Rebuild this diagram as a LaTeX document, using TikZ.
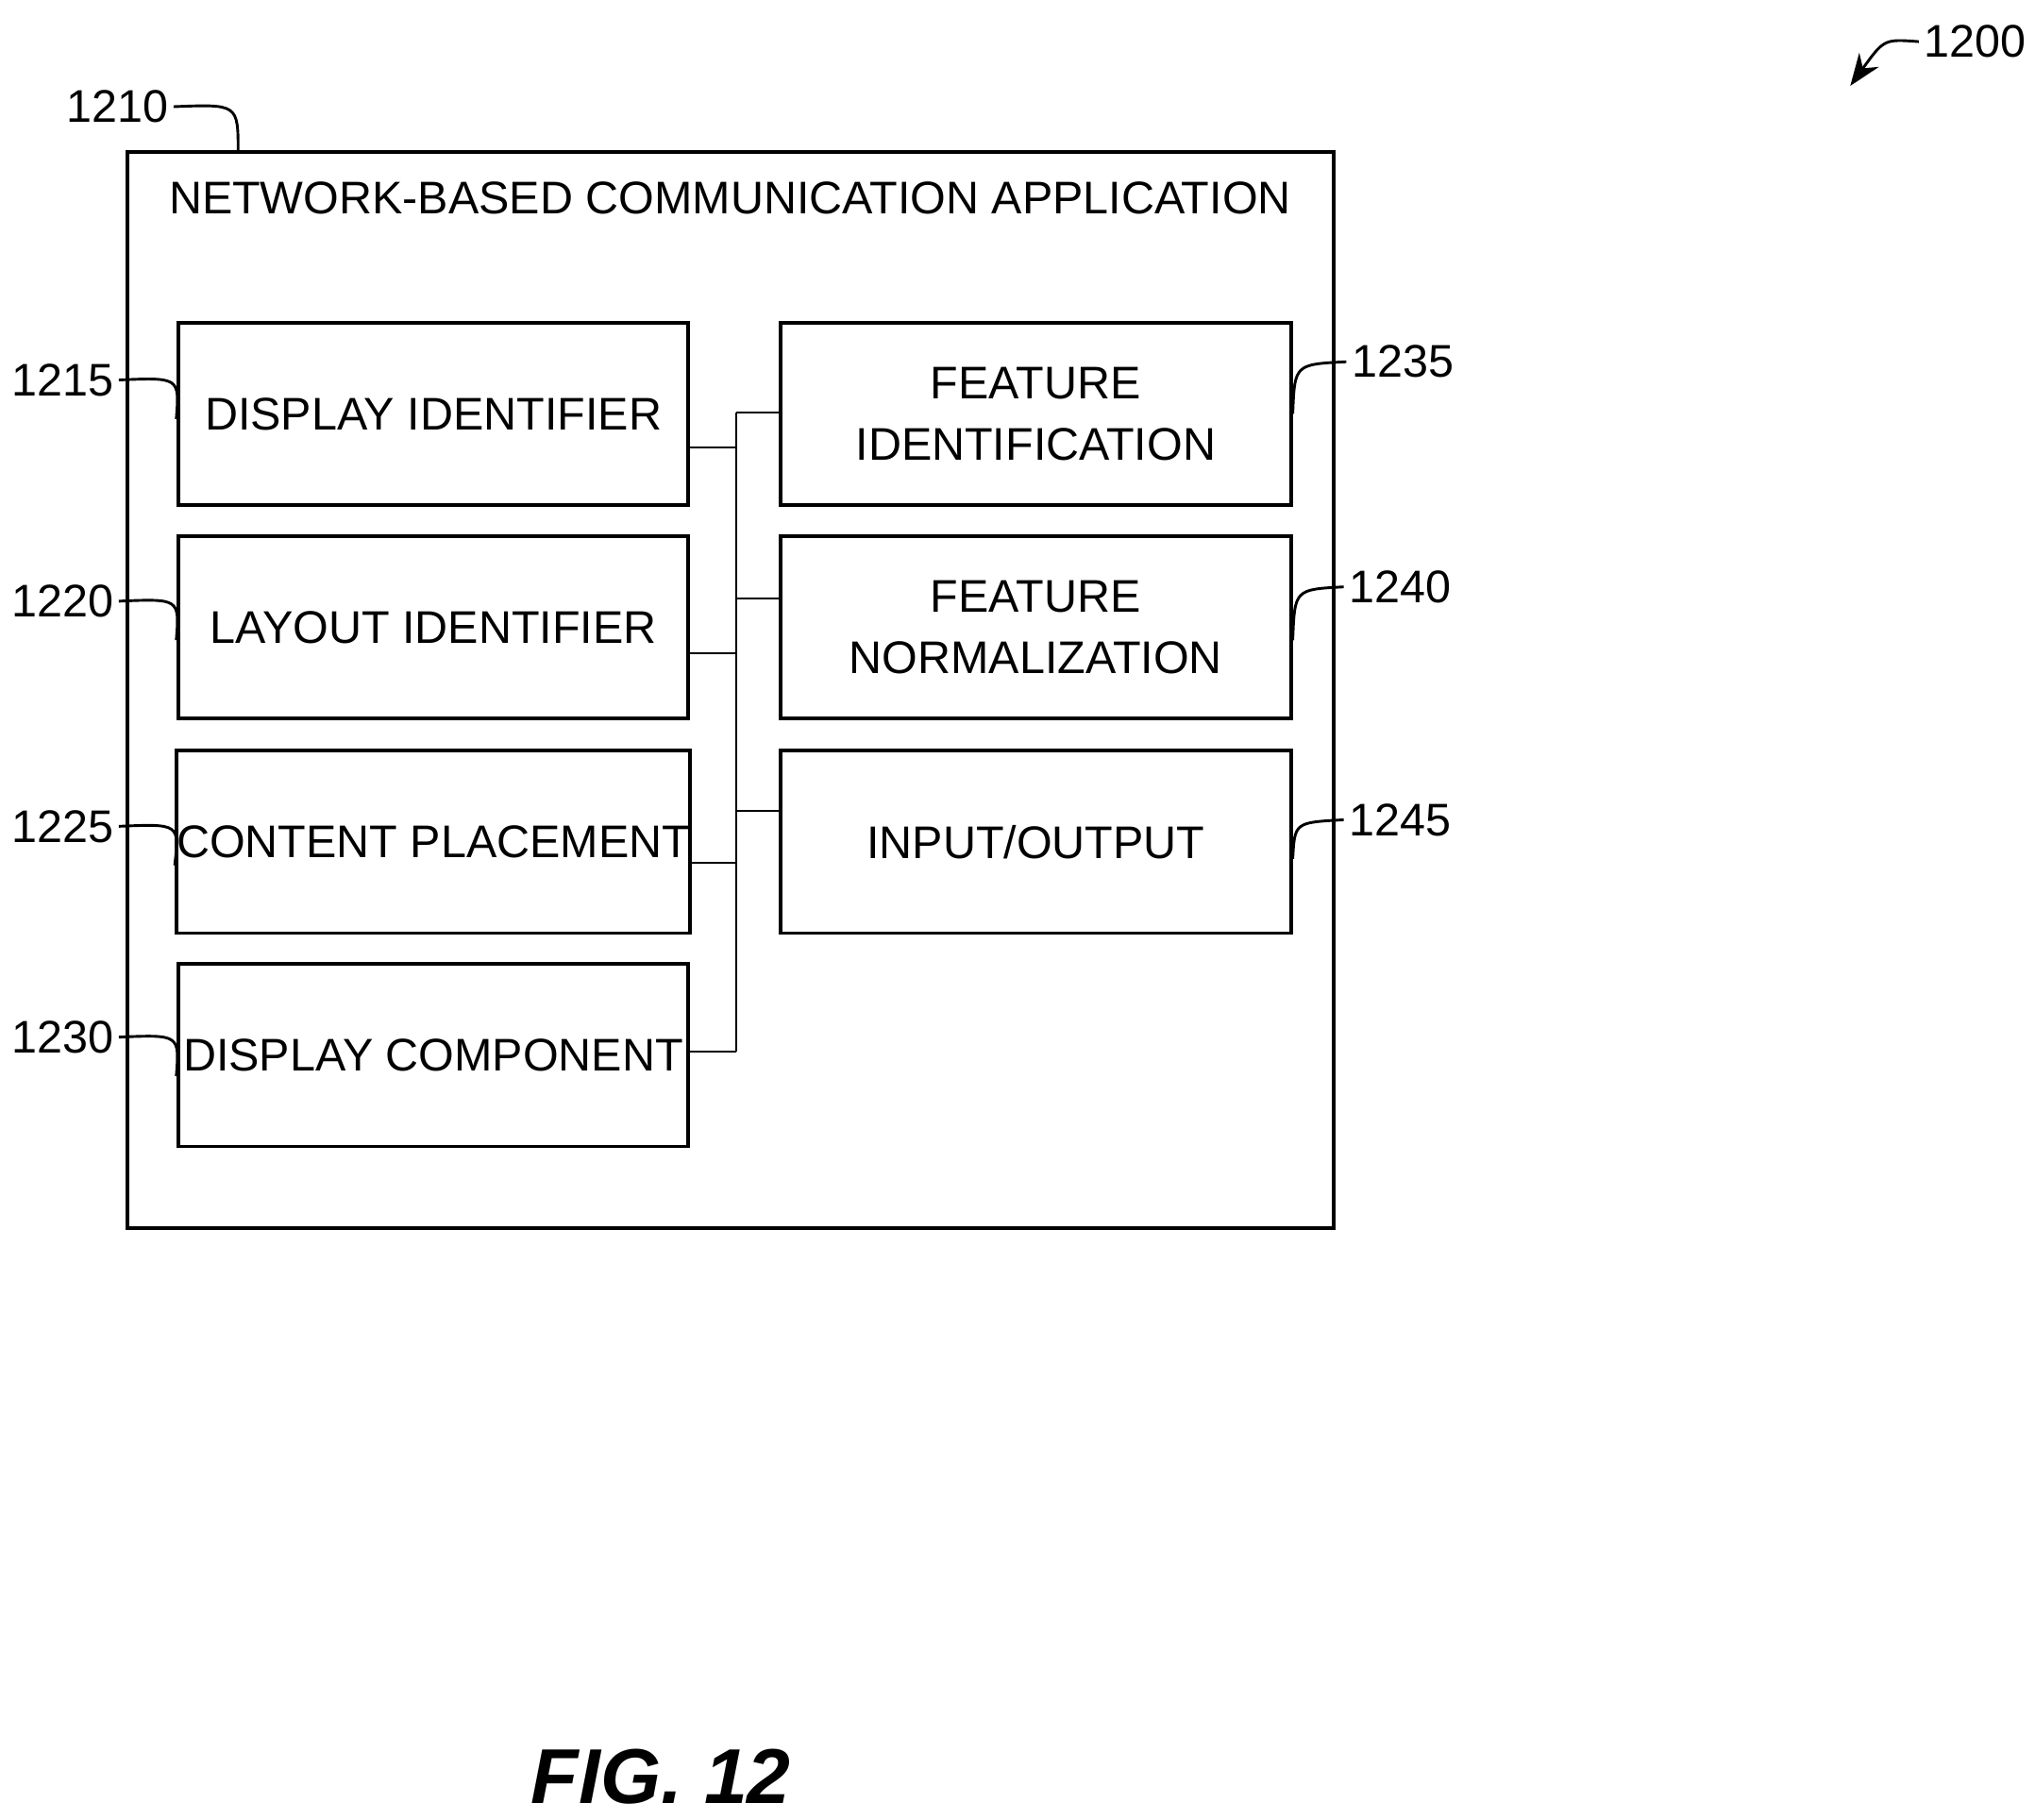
\documentclass[tikz,border=0pt]{standalone}
\usepackage{fontspec}
\setmainfont{Liberation Sans}
\usetikzlibrary{arrows.meta}

\tikzset{
  block/.style = {draw, thick, minimum width = 3.92cm, minimum height = 1.40cm, align = center, inner sep = 0pt, font = \fontsize{10}{13.5}\selectfont},
  refnum/.style = {font = \fontsize{10}{12}\selectfont, inner sep = 1pt},
  leader/.style = {semithick}
}

\begin{document}
\begin{tikzpicture}[x = 0.01cm, y = -0.01cm]
        \useasboundingbox (0,0) rectangle (1564,1398);

        \draw[thick] (98,117) rectangle (1025,944);
        \node[font = \fontsize{10}{13}\selectfont] (title) at (561,152) {NETWORK-BASED COMMUNICATION APPLICATION};

        \node[block] (disp) at (333,318) {DISPLAY IDENTIFIER};
        \node[block] (layout) at (333,482) {LAYOUT IDENTIFIER};
        \node[block] (content) at (333,647) {CONTENT PLACEMENT};
        \node[block] (dcomp) at (333,811) {DISPLAY COMPONENT};

        \node[block] (featid) at (796,318) {FEATURE\\IDENTIFICATION};
        \node[block] (featnorm) at (796,482) {FEATURE\\NORMALIZATION};
        \node[block] (io) at (796,647) {INPUT/OUTPUT};

        \coordinate (top) at (566,317);
        \coordinate (bot) at (566,808);
        \draw (top) -- (bot);
        \draw (top) -- (featid.west |- top);
        \draw (disp.east |- 0,344) -- (566,344);
        \draw (layout.east |- 0,502) -- (566,502);
        \draw (content.east |- 0,663) -- (566,663);
        \draw (dcomp.east |- bot) -- (bot);
        \draw (566,460) -- (featnorm.west |- 0,460);
        \draw (566,623) -- (io.west |- 0,623);

        \node[refnum] (n1215) at (48,292) {1215};
        \node[refnum] (n1220) at (48,462) {1220};
        \node[refnum] (n1225) at (48,635) {1225};
        \node[refnum] (n1230) at (48,797) {1230};
        \draw[leader] (n1215.east) .. controls (138,290) .. (disp.west |- 0,322);
        \draw[leader] (n1220.east) .. controls (138,460) .. (layout.west |- 0,492);
        \draw[leader] (n1225.east) .. controls (138,633) .. (content.west |- 0,665);
        \draw[leader] (n1230.east) .. controls (138,795) .. (dcomp.west |- 0,827);

        \node[refnum] (n1235) at (1078,278) {1235};
        \node[refnum] (n1240) at (1076,451) {1240};
        \node[refnum] (n1245) at (1076,630) {1245};
        \draw[leader] (featid.east |- 0,318) .. controls (995,280) .. (n1235.west);
        \draw[leader] (featnorm.east |- 0,492) .. controls (995,453) .. (n1240.west);
        \draw[leader] (io.east |- 0,660) .. controls (995,632) .. (n1245.west);

        \node[refnum] (n1210) at (90,82) {1210};
        \draw[leader] (n1210.east) .. controls (183,80) .. (183,117);

        \node[refnum] (n1200) at (1518,32) {1200};
        \draw[leader, -{Stealth[length = 7pt]}] (n1200.west) .. controls (1448,30) .. (1422,66);

        \node[font = \fontsize{17}{20}\selectfont\bfseries\itshape] (fig) at (508,1365) {FIG. 12};
    \end{tikzpicture}
\end{document}
